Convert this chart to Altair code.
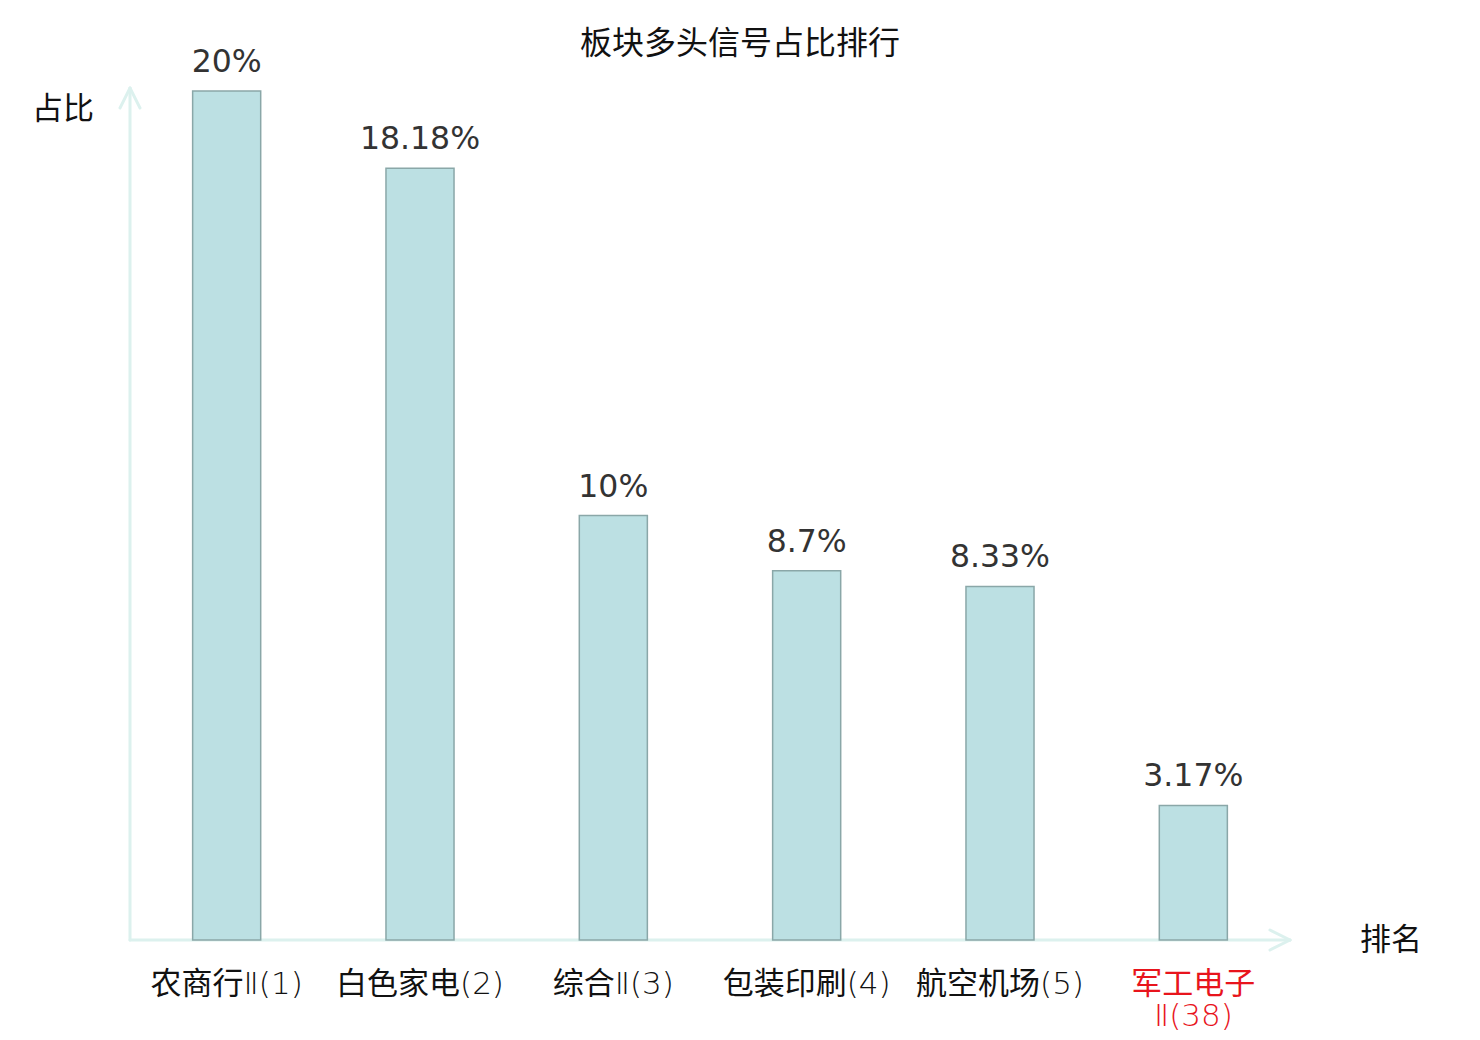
import altair as alt
import pandas as pd

categories = ["农商行Ⅱ(1)", "白色家电(2)", "综合Ⅱ(3)", "包装印刷(4)", "航空机场(5)", "军工电子\nⅡ(38)"]
values = [20, 18.18, 10, 8.7, 8.33, 3.17]
value_labels = ["20%", "18.18%", "10%", "8.7%", "8.33%", "3.17%"]
highlight = [False, False, False, False, False, True]

title_text = "板块多头信号占比排行"
y_title = "占比"
x_title = "排名"

W, H = 1160, 849
AXIS_COLOR = "#dcf1ee"
CJK = "Noto Sans CJK SC"

df = pd.DataFrame({"cat": categories, "val": values, "lab": value_labels, "hl": highlight})

x_enc = alt.X("cat:N", sort=None, axis=None,
              scale=alt.Scale(paddingInner=0.648, paddingOuter=0.324))
y_enc = alt.Y("val:Q", axis=None, scale=alt.Scale(domain=[0, 20], nice=False, zero=True))

base = alt.Chart(df)

bars = base.mark_bar(fill="#bce0e3", stroke="#8aa7a8", strokeWidth=1.5).encode(x=x_enc, y=y_enc)

vlabels = base.mark_text(font="DejaVu Sans", fontSize=31.5, color="#333333",
                         baseline="alphabetic", dy=-19).encode(x=x_enc, y=y_enc, text="lab:N")

clabels = base.mark_text(font="DejaVu Sans Light, Noto Sans CJK SC", fontSize=31,
                         baseline="alphabetic", lineBreak="\n", lineHeight=32).encode(
    x=x_enc, y=alt.value(H + 54), text="cat:N",
    color=alt.condition("datum.hl", alt.value("#e8141c"), alt.value("#111111")))

one = alt.Data(values=[{"a": 1}])

def seg(x1, y1, x2, y2, w=3):
    return alt.Chart(one).mark_rule(color=AXIS_COLOR, strokeWidth=w, strokeCap="round").encode(
        x=alt.value(x1), y=alt.value(y1), x2=alt.value(x2), y2=alt.value(y2))

axes = [
    seg(0, -3, 0, H),
    seg(0, H, W, H),
    seg(0, -3, -10, 17),
    seg(0, -3, 10, 17),
    seg(W, H, W - 20, H - 10),
    seg(W, H, W - 20, H + 10),
]

def label(txt, x, y, size, color="#111111"):
    return alt.Chart(alt.Data(values=[{"t": txt}])).mark_text(
        font=CJK, fontSize=size, color=color, baseline="middle", align="center").encode(
        x=alt.value(x), y=alt.value(y), text="t:N")

texts = [
    label(title_text, 610, -47, 32),
    label(y_title, -67, 19, 31),
    label(x_title, 1261, 850, 31),
]

chart = alt.layer(*axes, bars, vlabels, clabels, *texts).properties(
    width=W, height=H,
    autosize=alt.AutoSizeParams(type="none"),
    padding={"left": 122, "top": 83, "right": 170, "bottom": 92},
).configure_view(stroke=None)

chart.save("out.html", embed_options={"renderer": "svg", "actions": False})
